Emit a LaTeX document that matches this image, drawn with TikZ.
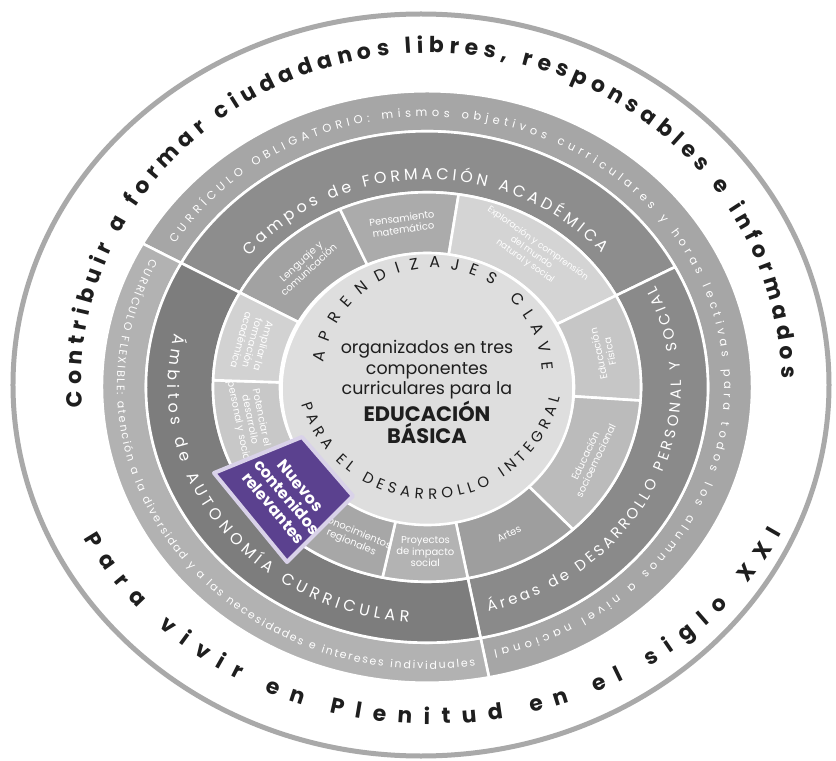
\documentclass[tikz,border=0pt]{standalone}
\usepackage{fontspec}
\setmainfont{Poppins}
\usetikzlibrary{decorations.text}
\definecolor{txtdark}{HTML}{1E1E1E}
\definecolor{outerline}{HTML}{A9A9A9}
\definecolor{obl}{HTML}{A6A6A6}
\definecolor{flex}{HTML}{B2B2B2}
\definecolor{campos}{HTML}{8D8D8D}
\definecolor{areas}{HTML}{8A8A8A}
\definecolor{ambitos}{HTML}{7D7D7D}
\definecolor{lenguaje}{HTML}{A2A2A2}
\definecolor{pensam}{HTML}{ABABAB}
\definecolor{explor}{HTML}{D4D4D4}
\definecolor{edfis}{HTML}{C6C6C6}
\definecolor{socio}{HTML}{BBBBBB}
\definecolor{artes}{HTML}{9E9E9E}
\definecolor{proyec}{HTML}{B3B3B3}
\definecolor{conoc}{HTML}{A7A7A7}
\definecolor{nuevoseg}{HTML}{B5B5B5}
\definecolor{potenc}{HTML}{C8C8C8}
\definecolor{ampliar}{HTML}{D2D2D2}
\definecolor{disc}{HTML}{DEDEDE}
\definecolor{violeta}{HTML}{5B418F}
\definecolor{halo}{HTML}{D9D2E9}

% ring segment: start angle, end angle, inner r, outer r, colour
\newcommand{\ringseg}[5]{%
  \fill[#5, draw=white, line width=2.6bp, line join=round]
    ({(#4)*cos(#1)},{0.91*(#4)*sin(#1)})
    arc[start angle=#1, end angle=#2, x radius=#4, y radius=0.91*#4]
    -- ({(#3)*cos(#2)},{0.91*(#3)*sin(#2)})
    arc[start angle=#2, end angle=#1, x radius=#3, y radius=0.91*#3] -- cycle;}

% text along an elliptic arc: cx, cy, rx, ry, a1, a2, text
\newcommand{\arctext}[7]{%
  \path[decorate, decoration={text along path, text align=fit to path, text={#7}}]
    ({#1+(#3)*cos(#5)},{#2+(#4)*sin(#5)})
    arc[start angle=#5, end angle=#6, x radius=#3, y radius=#4];}

\tikzset{
  segtxt/.style={text=white, font=\fontsize{10}{11.5}\selectfont, align=center, inner sep=0pt},
  boxtxt/.style={text=white, font=\fontsize{16}{17.5}\selectfont\bfseries, align=center, inner sep=0pt},
  centertxt/.style={text=txtdark, font=\fontsize{17.5}{20.5}\selectfont, align=center, inner sep=0pt}
}

\begin{document}
\begin{tikzpicture}[x=1bp,y=1bp]
\useasboundingbox (-427,-374) rectangle (409,387);
\fill[white] (-427,-374) rectangle (409,387);

% outer circle
\draw[outerline, line width=5bp] (-6,2) ellipse [x radius=408, y radius=371];

% outer light ring
\ringseg{151}{-79}{281}{325}{obl}
\ringseg{151}{281}{281}{325}{flex}
% dark ring
\ringseg{28}{151}{214}{281}{campos}
\ringseg{-79}{28}{214}{281}{areas}
\ringseg{151}{281}{214}{281}{ambitos}
% inner ring
\ringseg{114}{151}{147}{214}{lenguaje}
\ringseg{81.5}{114}{147}{214}{pensam}
\ringseg{28}{81.5}{147}{214}{explor}
\ringseg{-4}{28}{147}{214}{edfis}
\ringseg{-47}{-4}{147}{214}{socio}
\ringseg{-79}{-47}{147}{214}{artes}
\ringseg{258}{281}{147}{214}{proyec}
\ringseg{232}{258}{147}{214}{conoc}
\ringseg{205}{232}{147}{214}{nuevoseg}
\ringseg{178}{205}{147}{214}{potenc}
\ringseg{151}{178}{147}{214}{ampliar}

% central disc
\fill[disc, draw=white, line width=2.6bp] (0.5,-2) ellipse [x radius=146, y radius=136];

% inner ring labels
\node[segtxt, rotate=42.5] (lenguajeT) at ({181*cos(132.5)},{0.91*181*sin(132.5)}) {Lenguaje y\\comunicación};
\node[segtxt, rotate=7.75] (pensamT) at ({181*cos(97.75)},{0.91*181*sin(97.75)}) {Pensamiento\\matemático};
\node[segtxt, rotate=-35.25, font=\fontsize{9}{11}\selectfont] (explorT) at ({181*cos(54.75)},{0.91*181*sin(54.75)}) {Exploración y comprensión\\del mundo\\natural y social};
\node[segtxt, rotate=102] (edfisT) at ({181*cos(12)},{0.91*181*sin(12)}) {Educación\\Física};
\node[segtxt, rotate=64.5] (socioT) at ({181*cos(-25.5)},{0.91*181*sin(-25.5)}) {Educación\\socioemocional};
\node[segtxt, rotate=27] (artesT) at ({181*cos(-63)},{0.91*181*sin(-63)}) {Artes};
\node[segtxt, rotate=-0.5] (proyecT) at ({181*cos(269.5)},{0.91*181*sin(269.5)}) {Proyectos\\de impacto\\social};
\node[segtxt, rotate=-23] (conocT) at ({181*cos(246)},{0.91*181*sin(246)}) {Conocimientos\\regionales};
\node[segtxt, rotate=-78.5] (potencT) at ({181*cos(191.5)},{0.91*181*sin(191.5)}) {Potenciar el\\desarrollo\\personal y social};
\node[segtxt, rotate=-105.5] (ampliarT) at ({181*cos(164.5)},{0.91*181*sin(164.5)}) {Ampliar la\\formación\\académica};

% purple box
\draw[halo, line width=4bp, line join=round, fill=violeta]
  (-213,-86) -- (-125,-50) -- (-74,-109) -- (-140,-175) -- cycle;
\node[boxtxt, rotate=-50] (nuevosT) at (-140,-110) {Nuevos\\contenidos\\relevantes};

% central text
\node[centertxt] (centro) at (0,-5) {organizados en tres\\componentes\\curriculares para la\\[1bp]{\fontsize{21}{22}\selectfont\bfseries EDUCACIÓN}\\{\fontsize{21}{22}\selectfont\bfseries BÁSICA}};

% texts along arcs
\arctext{4.5}{3}{350}{331}{184}{1}{|\fontsize{22}{22}\selectfont\bfseries\color{txtdark}|Contribuir a formar ciudadanos libres, responsables e informados}
\arctext{4.5}{3}{390}{340}{207}{334}{|\fontsize{22}{22}\selectfont\bfseries\color{txtdark}|Para vivir en Plenitud en el siglo XXI}
\arctext{0}{0}{297}{0.91*297}{148}{-77}{|\fontsize{11.5}{12}\selectfont\color{white}|CURRÍCULO OBLIGATORIO: mismos objetivos curriculares y horas lectivas para todos los alumnos a nivel nacional}
\arctext{0}{0}{310}{0.91*310}{153}{279}{|\fontsize{11}{12}\selectfont\color{white}|CURRÍCULO FLEXIBLE: atención a la diversidad y a las necesidades e intereses individuales}
\arctext{0}{0}{228}{0.91*228}{141}{40}{|\fontsize{16}{16}\selectfont\color{white}|Campos de FORMACIÓN ACADÉMICA}
\arctext{0}{0}{254}{0.91*254}{-76}{26}{|\fontsize{15}{15}\selectfont\color{white}|Áreas de DESARROLLO PERSONAL Y SOCIAL}
\arctext{0}{0}{259}{0.91*259}{167}{266}{|\fontsize{16}{16}\selectfont\color{white}|Ámbitos de AUTONOMÍA CURRICULAR}
\arctext{6}{9}{110}{110}{172}{57}{|\fontsize{16}{16}\selectfont\color{txtdark}|APRENDIZAJES}
\arctext{6}{9}{110}{110}{46}{4}{|\fontsize{16}{16}\selectfont\color{txtdark}|CLAVE}
\arctext{3}{22}{134}{134}{197}{346}{|\fontsize{15}{15}\selectfont\color{txtdark}|PARA EL DESARROLLO INTEGRAL}
\end{tikzpicture}
\end{document}
